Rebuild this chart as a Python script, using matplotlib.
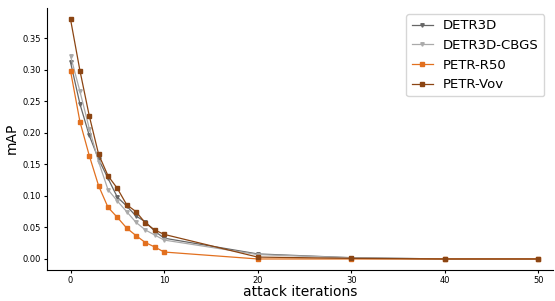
import matplotlib
matplotlib.use("Agg")
import matplotlib.pyplot as plt

iters = [0, 1, 2, 3, 4, 5, 6, 7, 8, 9, 10, 20, 30, 40, 50]
detr3d = [0.312, 0.246, 0.196, 0.158, 0.128, 0.098, 0.084, 0.068, 0.059, 0.044, 0.033, 0.008, 0.002, 0.0, 0.0]
detr3d_cbgs = [0.322, 0.266, 0.207, 0.154, 0.110, 0.092, 0.075, 0.058, 0.046, 0.038, 0.030, 0.007, 0.002, 0.0, 0.0]
petr_r50 = [0.298, 0.218, 0.164, 0.116, 0.082, 0.066, 0.049, 0.037, 0.026, 0.019, 0.011, 0.0, 0.0, 0.0, 0.0]
petr_vov = [0.380, 0.299, 0.227, 0.166, 0.132, 0.112, 0.086, 0.075, 0.057, 0.046, 0.039, 0.003, 0.001, 0.0, 0.0]

fig = plt.figure(figsize=(5.55, 3.01), dpi=100)
ax = fig.add_axes([0.085, 0.103, 0.912, 0.872])

ax.plot(iters, detr3d, color="#666666", marker="v", markersize=2.5, linewidth=0.9, label="DETR3D")
ax.plot(iters, detr3d_cbgs, color="#aaaaaa", marker="v", markersize=2.5, linewidth=0.9, label="DETR3D-CBGS")
ax.plot(iters, petr_r50, color="#e2701f", marker="s", markersize=2.4, linewidth=0.9, label="PETR-R50")
ax.plot(iters, petr_vov, color="#8b4513", marker="s", markersize=2.4, linewidth=0.9, label="PETR-Vov")

ax.spines["top"].set_visible(False)
ax.spines["right"].set_visible(False)
ax.set_xticks([0, 10, 20, 30, 40, 50])
ax.set_yticks([0.0, 0.05, 0.10, 0.15, 0.20, 0.25, 0.30, 0.35])
ax.tick_params(labelsize=6, length=2.5, pad=2)
ax.set_xlim(-2.5, 51.6)
ax.set_ylim(-0.0175, 0.399)
ax.set_xlabel("attack iterations", fontsize=10, labelpad=0)
ax.set_ylabel("mAP", fontsize=10, labelpad=3)
ax.legend(fontsize=9.5, loc="upper right", bbox_to_anchor=(0.995, 1.0), handlelength=1.6)

fig.savefig("out.png", dpi=100)
